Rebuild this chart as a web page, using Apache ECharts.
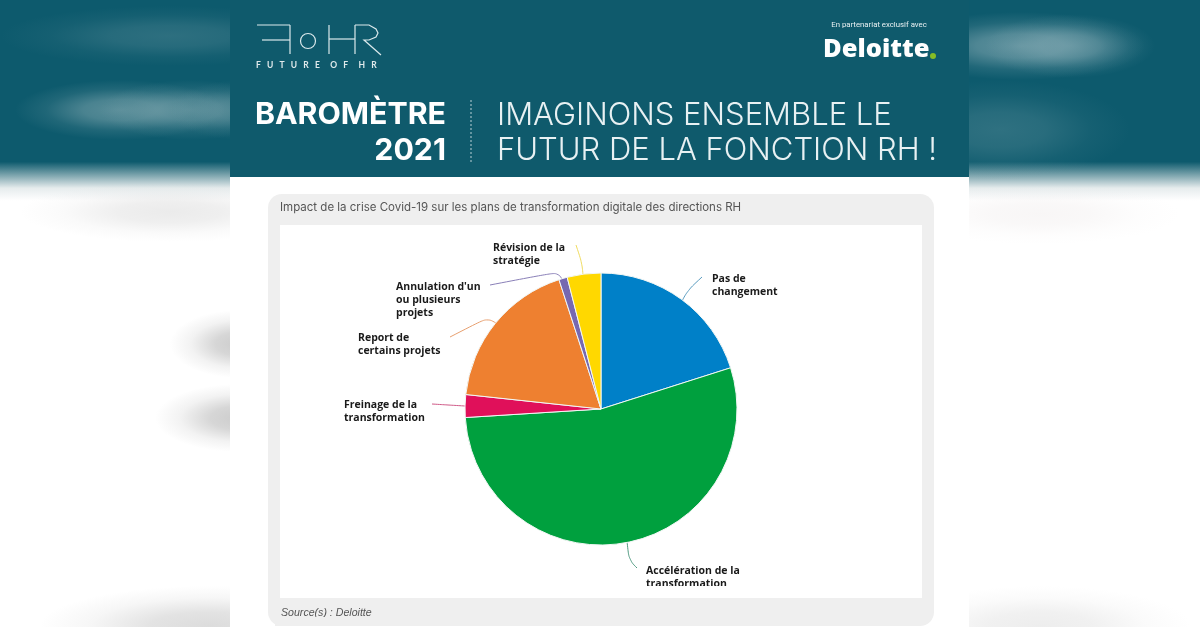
<!DOCTYPE html>
<html>
<head>
<meta charset="utf-8">
<title>Baromètre 2021</title>
<script src="https://cdn.jsdelivr.net/npm/echarts@6/dist/echarts.min.js"></script>
<style>
html,body{margin:0;padding:0;background:#fff;}
#main{width:1200px;height:627px;}
</style>
</head>
<body>
<div id="main"></div>
<script>
// values, percent
var categories = ["Pas de\nchangement", "Accélération de la\ntransformation", "Freinage de la\ntransformation", "Report de\ncertains projets", "Annulation d'un\nou plusieurs\nprojets", "Révision de la\nstratégie"];
var values = [20.1, 53.9, 2.7, 18.3, 1.0, 4.0];
var colors = ["#0080c8", "#00a03e", "#e0105a", "#ee8030", "#7768b0", "#ffd800"];
var lineColors = ["#5a9cc0", "#4f9a80", "#d05a88", "#e8a070", "#8a80b8", "#f0dc60"];

var TEAL = "#0f5a6c";
var labelPos = [
	{x:712, y:286, line:[[682,301],[688,290],[702,277]]},
	{x:646, y:578, line:[[627,541],[629,560],[637,568]]},
	{x:344, y:412, line:[[465,406],[448,405],[432,404]]},
	{x:358, y:345, line:[[496,323],[487,318],[450,337]]},
	{x:396, y:300, line:[[563,281],[558,272],[490,285]]},
	{x:493, y:255, line:[[583,275],[582,263],[576,245]]}
];

function rect(x, y, w, h, fill, z, r){
	return {type:"rect", silent:true, z:z||1, shape:{x:x, y:y, width:w, height:h, r:r||0}, style:{fill:fill}};
}
function txt(x, y, s, size, color, weight, align, font, style){
	return {type:"text", silent:true, z:5, x:x, y:y, style:{text:s, fontSize:size, fill:color, fontWeight:weight||"normal",
		align:align||"left", verticalAlign:"middle", fontFamily:font||"Lato", fontStyle:style||"normal"}};
}
function line(x1, y1, x2, y2, color, w, dash){
	return {type:"line", silent:true, z:5, shape:{x1:x1, y1:y1, x2:x2, y2:y2}, style:{stroke:color, lineWidth:w||1, lineDash:dash||null}};
}
function smear(cx, cy, rx, ry, rgb, a){
	// blurred patch of the page behind the card: a radial gradient stretched to an ellipse
	return {type:"rect", silent:true, z:1, x:cx, y:cy, scaleX:rx/50, scaleY:ry/50,
		shape:{x:-50, y:-50, width:100, height:100},
		style:{fill:{type:"radial", x:0.5, y:0.5, r:0.5, colorStops:[
			{offset:0, color:"rgba("+rgb+","+a+")"},
			{offset:0.35, color:"rgba("+rgb+","+(a*0.8)+")"},
			{offset:0.7, color:"rgba("+rgb+","+(a*0.25)+")"},
			{offset:1, color:"rgba("+rgb+",0)"}
		]}}};
}
function vgrad(stops){
	return {type:"linear", x:0, y:0, x2:0, y2:1, colorStops:stops};
}

var bgStops = [
	{offset:0, color:"#0d5a6d"}, {offset:0.258, color:"#0d5a6d"}, {offset:0.28, color:"#7fa6af"},
	{offset:0.30, color:"#e6eced"}, {offset:0.32, color:"#ffffff"}, {offset:1, color:"#ffffff"}
];

var graphics = [
	rect(0, 0, 1200, 627, vgrad(bgStops), 0),
	// left side
	smear(170, 36, 170, 30, "120,160,170", 0.3),
	smear(120, 110, 105, 30, "140,175,182", 0.6),
	smear(190, 110, 90, 30, "140,175,182", 0.5),
	smear(240, 110, 70, 30, "140,175,182", 0.35),
	smear(170, 212, 150, 30, "215,215,215", 0.5),
	smear(240, 344, 70, 34, "170,170,170", 0.6),
	smear(240, 418, 85, 34, "170,170,170", 0.6),
	smear(210, 626, 170, 40, "205,205,205", 0.7),
	// right side
	smear(1020, 46, 125, 34, "150,182,190", 0.6),
	smear(1070, 46, 85, 32, "150,182,190", 0.45),
	smear(1000, 130, 130, 50, "110,155,165", 0.35),
	smear(1040, 214, 140, 30, "235,230,230", 0.35),
	smear(1040, 626, 150, 40, "225,225,225", 0.6),

	// page card
	rect(230, 0, 739, 627, "#ffffff", 2),
	rect(230, 0, 739, 177, TEAL, 2),
	rect(268, 194, 666, 432, "#efefef", 2, 14),
	rect(280, 225, 642, 373, "#ffffff", 2),

	// FoHR logo
	line(257, 25, 290, 25, "#dbe9ec", 1.2),
	line(262, 40, 290, 40, "#dbe9ec", 1.2),
	line(290, 25, 290, 54, "#dbe9ec", 1.2),
	{type:"circle", silent:true, z:5, shape:{cx:308, cy:41, r:7.5}, style:{fill:"none", stroke:"#dbe9ec", lineWidth:1.2}},
	line(329, 25, 329, 54, "#dbe9ec", 1.2),
	line(329, 39, 355, 39, "#dbe9ec", 1.2),
	line(355, 25, 355, 54, "#dbe9ec", 1.2),
	{type:"polyline", silent:true, z:5, shape:{points:[[355,25],[369,25],[376,29],[378,33],[376,37],[369,40],[364,40],[381,55]]}, style:{fill:"none", stroke:"#dbe9ec", lineWidth:1.2}},
	txt(256, 65, "F   U   T   U   R   E     O   F     H   R", 8.5, "#dfe9eb", "bold", "left", "Lato"),

	txt(879, 25, "En partenariat exclusif avec", 7.8, "#e8f0f2", "normal", "center", "Roboto"),
	txt(823, 50, "Deloitte", 25.5, "#ffffff", "800", "left", "Open Sans"),
	{type:"circle", silent:true, z:5, shape:{cx:933, cy:56, r:3}, style:{fill:"#86bc25"}},

	txt(446, 115, "BAROMÈTRE", 30.3, "#ffffff", "bold", "right", "Inter"),
	txt(446, 151, "2021", 30.3, "#ffffff", "bold", "right", "Inter"),
	line(471, 100, 471, 162, "#b9cfd4", 1, [2,2]),
	txt(497, 115.5, "IMAGINONS ENSEMBLE LE", 31, "#e8f1f3", "300", "left", "Inter"),
	txt(497, 150.5, "FUTUR DE LA FONCTION RH !", 31, "#e8f1f3", "300", "left", "Inter"),

	txt(280, 208, "Impact de la crise Covid-19 sur les plans de transformation digitale des directions RH", 11.5, "#555555", "normal", "left", "Inter"),
	txt(281, 613, "Source(s) : Deloitte", 10.6, "#555555", "normal", "left", "Liberation Sans", "italic"),

	// the reference crops the two bottom lines
	rect(600, 586, 200, 12, "#ffffff", 20),
	rect(275, 617, 200, 9, "#efefef", 20)
];

var pieData = categories.map(function(c, i){
	return {name:c, value:values[i], itemStyle:{color:colors[i]}, labelLine:{lineStyle:{color:lineColors[i]}}};
});

var chart = echarts.init(document.getElementById("main"), null, {renderer:"canvas"});
chart.setOption({
	animation:false,
	graphic:{elements:graphics},
	series:[{
		type:"pie",
		z:10,
		center:[601, 409],
		radius:[0, 136],
		startAngle:90,
		clockwise:true,
		avoidLabelOverlap:false,
		data:pieData,
		itemStyle:{borderColor:"#f2f7f5", borderWidth:1},
		label:{show:true, color:"#1a1a1a", fontSize:10.5, fontWeight:"bold", fontFamily:"Open Sans", lineHeight:13, align:"left"},
		labelLine:{show:true, smooth:0.4, lineStyle:{width:1}},
		labelLayout:function(p){
			var q = labelPos[p.dataIndex];
			return {x:q.x, y:q.y, align:"left", verticalAlign:"middle", labelLinePoints:q.line};
		}
	}]
});
</script>
</body>
</html>
